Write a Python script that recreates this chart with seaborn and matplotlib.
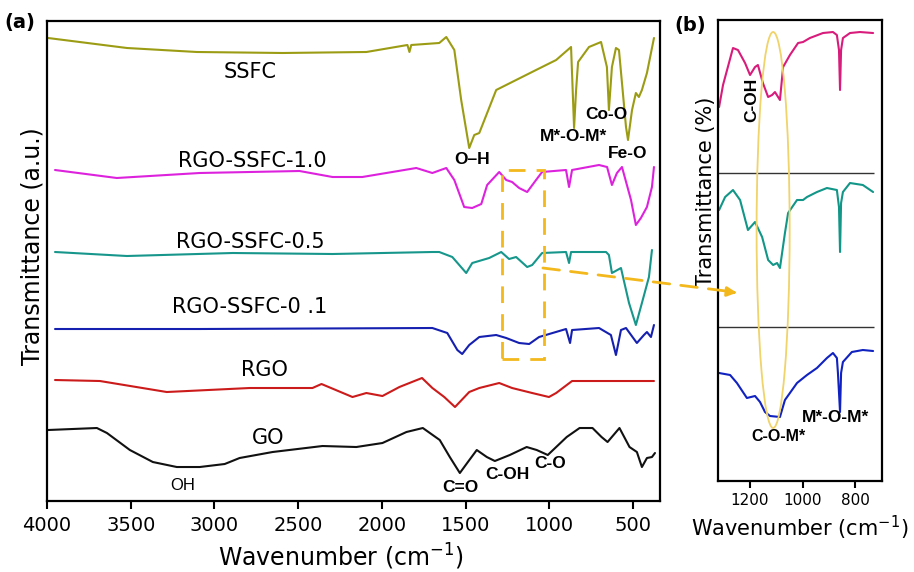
import pandas as pd
import seaborn as sns
import matplotlib.pyplot as plt
from matplotlib.patches import Rectangle, Ellipse, ConnectionPatch

# ---- panel (a) spectra (wavenumber in cm-1, transmittance in a.u.) ----
ssfc_wn = [3994, 3523, 3106, 2593, 2093, 1848, 1836, 1825, 1658, 1616, 1568, 1527, 1479, 1449, 1419,
           1318, 1199, 1080, 960, 871, 853, 841, 829, 764, 692, 657, 645, 627, 603, 585, 567, 543, 531,
           507, 484, 466, 448, 418, 376]
ssfc_t = [463, 453, 449, 448, 449, 456, 449, 456, 458, 464, 451, 401, 353, 366, 368,
          411, 421, 431, 441, 454, 373, 411, 439, 454, 459, 434, 391, 434, 453, 451, 418, 374, 361,
          391, 408, 404, 411, 428, 463]

rgo10_wn = [3952, 3583, 3088, 2492, 2295, 2117, 1795, 1699, 1616, 1568, 1509, 1461, 1407, 1372, 1300,
            1258, 1223, 1181, 1133, 1080, 1044, 901, 883, 865, 704, 656, 627, 597, 567, 513, 484, 454,
            418, 388, 376]
rgo10_t = [331, 323, 328, 330, 324, 324, 333, 328, 333, 321, 294, 293, 297, 316, 329,
           321, 319, 313, 309, 321, 329, 331, 314, 331, 336, 334, 316, 328, 334, 301, 276, 283,
           294, 314, 334]

rgo05_wn = [3952, 3523, 2891, 2295, 1699, 1658, 1580, 1497, 1461, 1360, 1288, 1241, 1199, 1133, 1103,
            1044, 901, 883, 871, 662, 645, 627, 573, 525, 484, 448, 406, 388]
rgo05_t = [249, 245, 248, 247, 249, 249, 244, 228, 238, 243, 249, 242, 244, 234, 236,
           248, 249, 238, 249, 249, 246, 228, 233, 198, 176, 198, 224, 251]

rgo01_wn = [3952, 3088, 1699, 1610, 1550, 1521, 1479, 1419, 1318, 1258, 1181, 1121, 1062, 901, 877,
            865, 704, 633, 603, 573, 543, 478, 436, 418, 394, 376]
rgo01_t = [172, 172, 173, 168, 151, 147, 156, 164, 166, 163, 158, 157, 164, 172, 158,
           171, 173, 166, 146, 171, 173, 158, 166, 169, 164, 176]

rgo_wn = [3952, 3684, 3285, 2790, 2415, 2361, 2176, 2093, 1997, 1896, 1761, 1699, 1628, 1564, 1479,
          1419, 1300, 1223, 1103, 1003, 960, 865, 376]
rgo_t = [121, 120, 109, 113, 113, 117, 104, 108, 105, 114, 123, 113, 104, 94, 109,
         113, 118, 113, 108, 104, 108, 120, 120]

go_wn = [3994, 3702, 3642, 3505, 3368, 3225, 3088, 2939, 2909, 2850, 2653, 2355, 2153, 1997, 1854,
         1756, 1655, 1595, 1535, 1487, 1434, 1374, 1326, 1237, 1136, 1076, 1010, 897, 820, 743, 689,
         653, 582, 522, 478, 448, 418, 388, 370]
go_t = [71, 73, 68, 51, 39, 34, 34, 37, 39, 43, 49, 55, 54, 58, 69,
        73, 61, 44, 28, 39, 51, 44, 40, 46, 54, 51, 46, 64, 73, 73, 64,
        59, 73, 54, 49, 34, 43, 44, 48]

# ---- panel (b) zoomed spectra ----
b10_wn = [1318, 1303, 1265, 1246, 1219, 1200, 1181, 1170, 1151, 1131, 1116, 1105, 1086, 1074, 1048,
          1017, 998, 972, 922, 884, 869, 861, 857, 853, 846, 819, 781, 731]
b10_t = [374, 396, 433, 431, 418, 406, 414, 416, 398, 384, 386, 389, 381, 414, 426,
         438, 439, 443, 448, 449, 446, 431, 391, 431, 443, 448, 449, 448]

b05_wn = [1318, 1295, 1265, 1238, 1208, 1181, 1154, 1131, 1112, 1097, 1086, 1067, 1055, 1021, 998,
          983, 945, 907, 869, 861, 857, 853, 846, 819, 770, 731]
b05_t = [271, 284, 291, 281, 251, 259, 244, 221, 216, 218, 213, 248, 268, 281, 281,
         284, 289, 293, 291, 274, 229, 278, 289, 298, 296, 289]

b01_wn = [1318, 1276, 1250, 1212, 1181, 1162, 1143, 1124, 1086, 1067, 1021, 983, 945, 907, 884,
          869, 865, 857, 853, 846, 812, 770, 731]
b01_t = [108, 106, 98, 83, 85, 79, 69, 65, 64, 81, 98, 106, 113, 123, 128,
         123, 108, 69, 108, 119, 129, 131, 130]

a_names = ["SSFC", "RGO-SSFC-1.0", "RGO-SSFC-0.5", "RGO-SSFC-0 .1", "RGO", "GO"]
a_colors = ["#9c9c14", "#dd22dd", "#17978c", "#1520b0", "#cc1b1b", "#111111"]
b_colors = ["#d81c7c", "#119688", "#1022c0"]

sns.set_theme(style="white")
plt.rcParams["font.family"] = ["DejaVu Sans"]
plt.rcParams["text.color"] = "black"
plt.rcParams["axes.labelcolor"] = "black"
plt.rcParams["xtick.color"] = "black"

fig = plt.figure(figsize=(9.14, 5.72), dpi=100)
ax = fig.add_axes([0.0514, 0.1241, 0.6707, 0.8392])
axb = fig.add_axes([0.7856, 0.1591, 0.1794, 0.8059])

a_series = [(ssfc_wn, ssfc_t), (rgo10_wn, rgo10_t), (rgo05_wn, rgo05_t),
            (rgo01_wn, rgo01_t), (rgo_wn, rgo_t), (go_wn, go_t)]
for (wn, t), c in zip(a_series, a_colors):
    df = pd.DataFrame({"wn": wn, "t": t})
    sns.lineplot(data=df, x="wn", y="t", ax=ax, color=c, lw=1.5, sort=False)

b_series = [(b10_wn, b10_t), (b05_wn, b05_t), (b01_wn, b01_t)]
for (wn, t), c in zip(b_series, b_colors):
    df = pd.DataFrame({"wn": wn, "t": t})
    sns.lineplot(data=df, x="wn", y="t", ax=axb, color=c, lw=1.5, sort=False)

# axes (a)
ax.set_xlim(4000, 340)
ax.set_ylim(0, 480)
ax.set_xticks([4000, 3500, 3000, 2500, 2000, 1500, 1000, 500])
ax.set_yticks([])
ax.tick_params(axis="x", direction="out", length=6, width=1.5, labelsize=14, pad=5, bottom=True,
               colors="black")
ax.set_xlabel("Wavenumber (cm$^{-1}$)", fontsize=17, color="black")
ax.set_ylabel("Transmittance (a.u.)", fontsize=17, color="black")
ax.xaxis.set_label_coords(0.48, -0.085)
ax.yaxis.set_label_coords(-0.004, 0.53)
for s in ax.spines.values():
    s.set_color("black")
    s.set_linewidth(1.6)

lab_pos = [(2788, 429), (2776, 340), (2788, 259), (2788, 194), (2699, 131), (2681, 63)]
for name, (x, y) in zip(a_names, lab_pos):
    ax.text(x, y, name, fontsize=15, ha="center", va="center", color="black")

bold = dict(fontsize=12.5, fontweight="bold", ha="center", va="center", family="Liberation Sans",
            color="black")
ax.text(1463, 341, "O\u2013H", **bold)
ax.text(854, 364, "M*-O-M*", **bold)
ax.text(663, 386, "Co-O", **bold)
ax.text(531, 347, "Fe-O", **bold)
ax.text(3188, 16, "OH", fontsize=12, ha="center", va="center", family="Liberation Sans",
        color="black")
ax.text(1534, 14, "C=O", **bold)
ax.text(1254, 27, "C-OH", **bold)
ax.text(997, 38, "C-O", **bold)

gold = "#f2b81c"
ax.add_patch(Rectangle((1284, 142), -251, 189, fill=False, ec=gold, lw=2,
                       ls=(0, (6, 4)), zorder=5))

# axes (b)
axb.set_xlim(1322, 697)
axb.set_ylim(0, 461)
axb.set_xticks([1200, 1000, 800])
axb.set_yticks([])
axb.tick_params(axis="x", direction="out", length=5, width=1.5, labelsize=11, pad=4, bottom=True,
                colors="black")
axb.set_xlabel("Wavenumber (cm$^{-1}$)", fontsize=15, color="black")
axb.set_ylabel("Transmittance (%)", fontsize=15, color="black")
axb.xaxis.set_label_coords(0.5, -0.072)
axb.yaxis.set_label_coords(-0.01, 0.627)
for s in axb.spines.values():
    s.set_color("black")
    s.set_linewidth(1.6)
axb.hlines([308, 154], 1322, 728, color="#333333", lw=1)
axb.add_patch(Ellipse((1112, 251), 126, 396, fill=False, ec="#f0d36a", lw=1.3, zorder=4))
axb.text(1192, 381, "C-OH", rotation=90, **bold)
axb.text(1093, 44, "C-O-M*", fontsize=11.5, fontweight="bold", ha="center", va="center",
         family="Liberation Sans", color="black")
axb.text(876, 63, "M*-O-M*", fontsize=12.5, fontweight="bold", ha="center", va="center",
         family="Liberation Sans", color="black")

# dashed arrow from (a) box to panel (b)
con = ConnectionPatch(xyA=(1039, 233), coordsA=ax.transData, xyB=(1262, 189), coordsB=axb.transData,
                      color=gold, lw=2, ls=(0, (6, 4)))
fig.add_artist(con)
axb.annotate("", xy=(1240, 188), xytext=(1275, 189),
             arrowprops=dict(arrowstyle="-|>", color=gold, lw=2, mutation_scale=14),
             annotation_clip=False)

fig.text(0.022, 0.96, "(a)", fontsize=14, fontweight="bold", ha="center", va="center")
fig.text(0.755, 0.956, "(b)", fontsize=14, fontweight="bold", ha="center", va="center")

fig.savefig("out.png", dpi=100)
